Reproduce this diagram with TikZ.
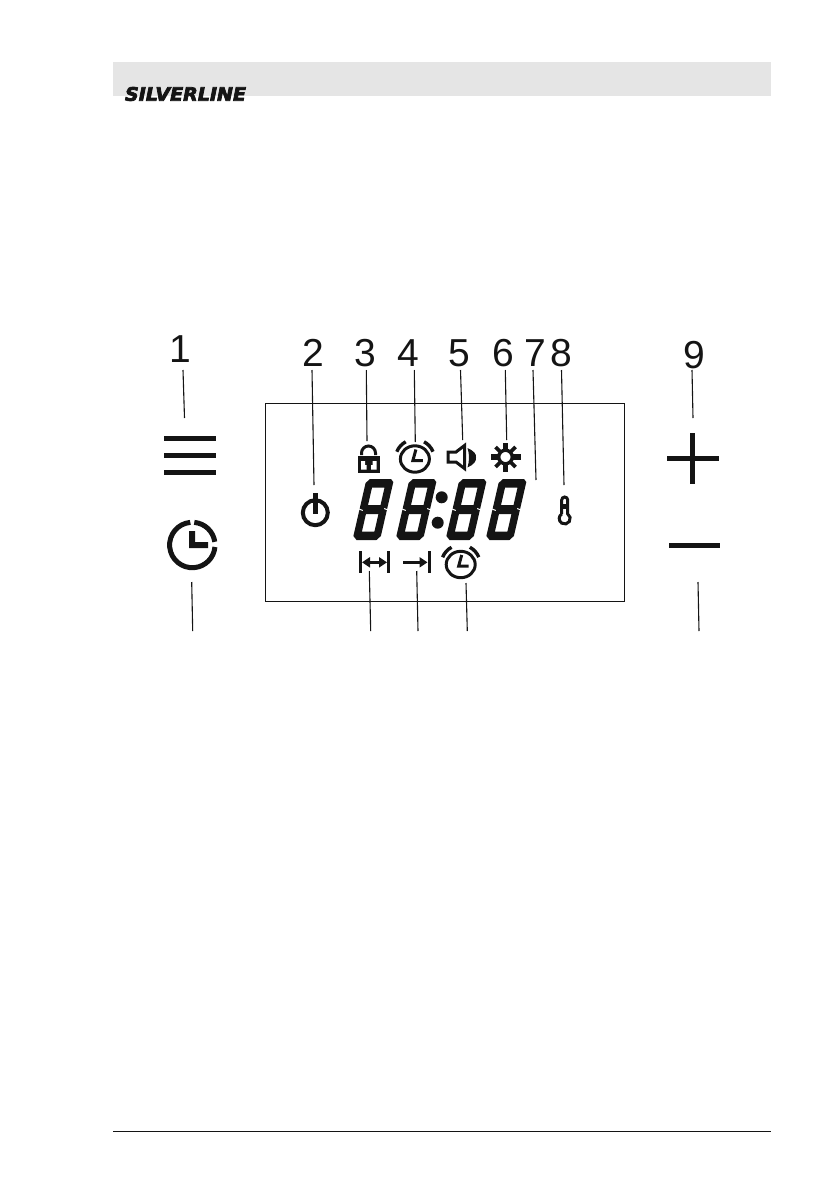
\documentclass[tikz,border=0pt]{standalone}
\usepackage{fontspec}
\setmainfont{Liberation Sans}
\newfontfamily\logofont[FakeBold=4]{DejaVu Sans Bold Oblique}
\definecolor{bandgray}{RGB}{229,229,229}
\definecolor{inkblack}{RGB}{20,20,20}
\usetikzlibrary{arrows.meta,positioning}
\tikzset{
  segdigit/.pic={
    \begin{scope}[xslant=0.23]
      \fill[inkblack,even odd rule] (3,0) -- (24,0) -- (27,3) -- (27,57) -- (23.5,61) -- (3.5,61) -- (-0.5,57) -- (-0.5,4) -- cycle
        (7,8.5) rectangle (19.5,26) (7,35) rectangle (19.5,52.5);
      \draw[white,line width=1] (-1,30) -- (3,31.5) (24,29.5) -- (28,31);
    \end{scope}
  },
  alarmicon/.pic={
    \draw[inkblack,line width=3] (0,0) ellipse (14.5 and 13.2);
    \draw[inkblack,line width=3] (1,-9.5) -- (-2,1.5) -- (8,1.5);
    \draw[inkblack,line width=3.4] (-118:19.5) arc (-118:-158:19.5);
    \draw[inkblack,line width=3.4] (-62:19.5) arc (-62:-22:19.5);
  }
}
\begin{document}
\begin{tikzpicture}[x=1pt,y=-1pt,
  numlabel/.style={font=\fontsize{39}{39}\selectfont,text=inkblack,inner sep=0},
  leader/.style={draw=inkblack,line width=1.1},
  heavybar/.style={draw=inkblack,line width=5},
  icon/.style={draw=inkblack,line width=3}]
  \useasboundingbox (0,0) rectangle (839,1191);
  % page header and footer
  \fill[bandgray] (113,62) rectangle (771,96);
  \node[font=\logofont\fontsize{18.5}{18.5}\selectfont,text=inkblack,inner sep=0] (logo) at (185.5,94) {\scalebox{1.03}[1]{SILVERLINE}};
  \draw[inkblack,line width=1.4] (113,1131.5) -- (771,1131.5);
  % display frame
  \draw[inkblack,line width=1] (265.5,403.5) rectangle (624,601.5);
  % numbers
  \node[numlabel] (n1) at (180,349) {1};
  \node[numlabel] (n2) at (313,353) {2};
  \node[numlabel] (n3) at (365,353) {3};
  \node[numlabel] (n4) at (408,353) {4};
  \node[numlabel] (n5) at (459,353) {5};
  \node[numlabel] (n6) at (503,353) {6};
  \node[numlabel] (n7) at (535,353) {7};
  \node[numlabel] (n8) at (561,353) {8};
  \node[numlabel] (n9) at (694,355) {9};
  % leader ends
  \coordinate (top1) at (183,370); \coordinate (end1) at (184.5,418);
  \coordinate (top2) at (312,370); \coordinate (end2) at (314,485);
  \coordinate (top3) at (366.3,370); \coordinate (end3) at (367,441);
  \coordinate (top4) at (414.3,370); \coordinate (end4) at (415.3,442);
  \coordinate (top5) at (460.5,370); \coordinate (end5) at (462.7,440);
  \coordinate (top6) at (505.3,370); \coordinate (end6) at (506.7,440);
  \coordinate (top7) at (533,370); \coordinate (end7) at (536,480);
  \coordinate (top8) at (561.5,370); \coordinate (end8) at (564,485);
  \coordinate (top9) at (692,370); \coordinate (end9) at (693,418);
  \coordinate (topclock) at (191.7,582); \coordinate (endclock) at (192.7,631);
  \coordinate (topwide) at (369.3,571); \coordinate (endwide) at (370.7,631);
  \coordinate (topend) at (416.7,571); \coordinate (endend) at (418,631);
  \coordinate (topalarm) at (466,583); \coordinate (endalarm) at (467.3,631);
  \coordinate (topminus) at (698,582); \coordinate (endminus) at (699,631);
  \draw[leader] (top1) -- (end1);
  \draw[leader] (top2) -- (end2);
  \draw[leader] (top3) -- (end3);
  \draw[leader] (top4) -- (end4);
  \draw[leader] (top5) -- (end5);
  \draw[leader] (top6) -- (end6);
  \draw[leader] (top7) -- (end7);
  \draw[leader] (top8) -- (end8);
  \draw[leader] (top9) -- (end9);
  \draw[leader] (topclock) -- (endclock);
  \draw[leader] (topwide) -- (endwide);
  \draw[leader] (topend) -- (endend);
  \draw[leader] (topalarm) -- (endalarm);
  \draw[leader] (topminus) -- (endminus);
  % left keys
  \draw[heavybar] (164,438.3) -- (216,438.3);
  \draw[heavybar] (164,455.3) -- (216,455.3);
  \draw[heavybar] (164,472.7) -- (216,472.7);
  \draw[heavybar] (192.3,545) ++(-95:22.7) arc (-95:-355:22.7);
  \draw[heavybar] (192.3,545) ++(-85:22.7) arc (-85:-8:22.7);
  \fill[inkblack] (189,531) -- (195,531) -- (195,542) -- (208,542) -- (208,548) -- (189,548) -- cycle;
  % right keys
  \draw[heavybar] (667,458.3) -- (718.7,458.3);
  \draw[heavybar] (692.7,433) -- (692.7,484);
  \draw[heavybar] (669,545.3) -- (720,545.3);
  % lock
  \fill[inkblack] (358,455.5) rectangle (379.5,472.5);
  \fill[white] (361,461) -- (365,461) -- (365,465) -- (366.5,465) -- (366.5,469.5) -- (361,469.5) -- cycle;
  \fill[white] (376.5,461) -- (372.5,461) -- (372.5,465) -- (371,465) -- (371,469.5) -- (376.5,469.5) -- cycle;
  \draw[icon] (361.5,455) -- (361.5,453) arc (-180:0:7) -- (375.5,455);
  % alarm icons
  \pic (alarmtop) at (414.9,459) {alarmicon};
  \pic (alarmlow) at (460.7,564.5) {alarmicon};
  % speaker
  \draw[icon,line join=miter] (448,452) -- (456,452) -- (464.5,445.5) -- (464.5,468.5) -- (456,462) -- (448,462) -- cycle;
  \fill[inkblack] (467.5,448) .. controls (474,451) and (476.5,454) .. (476,457.5) .. controls (476.5,461) and (474,464.5) .. (467.5,467.5) .. controls (469.5,461) and (469.5,454) .. (467.5,448) -- cycle;
  % lamp
  \draw[inkblack,line width=3.4] (505.5,457) circle (6.8);
  \draw[inkblack,line width=5.5] (491,457) -- (498,457) (513,457) -- (521,457) (505.5,443) -- (505.5,449.5) (505.5,464.5) -- (505.5,472);
  \draw[inkblack,line width=3.8] (495.5,447) -- (500.3,451.8) (515.5,447) -- (510.7,451.8) (495.5,467) -- (500.3,462.2) (515.5,467) -- (510.7,462.2);
  % thermometer
  \draw[icon] (561.7,513.9) -- (561.7,500) arc (-180:0:3) -- (567.7,513.9) arc (-57:237:5.5);
  \fill[inkblack] (563,503.5) rectangle (566.5,509);
  % power
  \draw[inkblack,line width=4] (315.3,512.7) circle (12.5);
  \draw[inkblack,line width=5] (315,493) -- (315,514);
  % digits
  \pic (digita) at (367,479) {segdigit};
  \pic (digitb) at (410,479) {segdigit};
  \pic (digitc) at (460,479) {segdigit};
  \pic (digitd) at (500,479) {segdigit};
  \fill[inkblack] (441.7,497.3) circle (6) (437.7,522.7) circle (6);
  % small arrows
  \draw[inkblack,line width=3] (360,551) -- (360,573);
  \draw[inkblack,line width=3] (388.7,551) -- (388.7,573);
  \draw[inkblack,line width=3,{Triangle[length=8,width=10]}-{Triangle[length=8,width=10]}] (362,562.3) -- (387,562.3);
  \draw[inkblack,line width=3] (429.3,551) -- (429.3,573);
  \draw[inkblack,line width=3,-{Triangle[length=8,width=10]}] (403,562.3) -- (427.5,562.3);
\end{tikzpicture}
\end{document}
